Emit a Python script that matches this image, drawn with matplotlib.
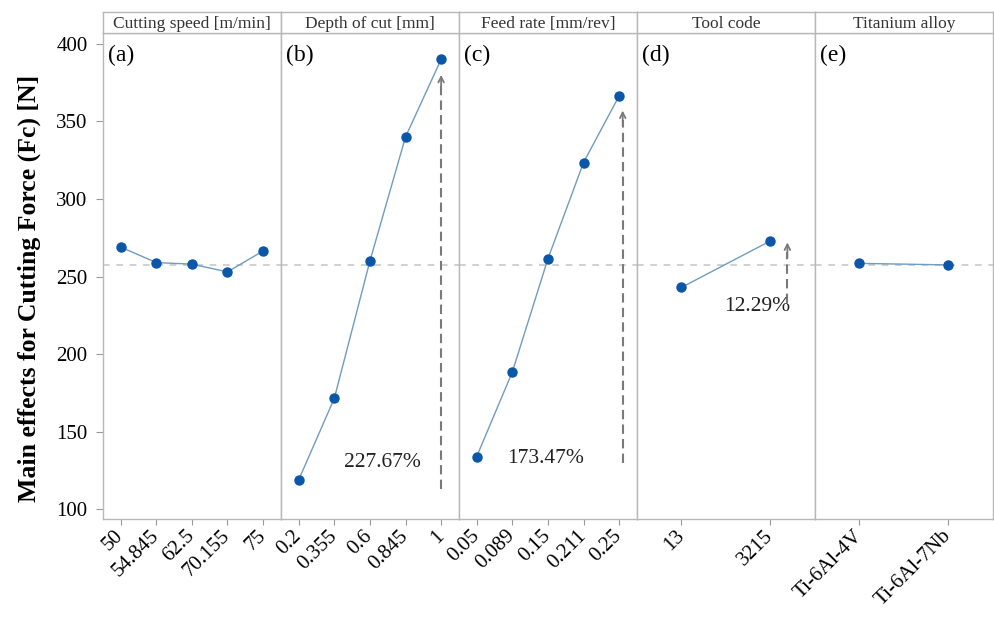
import matplotlib.pyplot as plt

plt.rcParams['font.family'] = ['Liberation Serif', 'DejaVu Serif']

# Factor names and level labels
factors = ['Cutting speed [m/min]', 'Depth of cut [mm]', 'Feed rate [mm/rev]',
           'Tool code', 'Titanium alloy']
panel_tags = ['(a)', '(b)', '(c)', '(d)', '(e)']

speed_levels = ['50', '54.845', '62.5', '70.155', '75']
speed_fc = [269, 259, 258, 253, 266.5]
depth_levels = ['0.2', '0.355', '0.6', '0.845', '1']
depth_fc = [119, 171.5, 260, 340, 390]
feed_levels = ['0.05', '0.089', '0.15', '0.211', '0.25']
feed_fc = [134, 188.5, 261.5, 323.5, 366.5]
tool_levels = ['13', '3215']
tool_fc = [243, 273]
alloy_levels = ['Ti-6Al-4V', 'Ti-6Al-7Nb']
alloy_fc = [258.5, 257.5]

overall_mean = 257.6

# Increase from the weakest to the strongest level of each factor
change_labels = [None, '227.67%', '173.47%', '12.29%', None]

levels = [speed_levels, depth_levels, feed_levels, tool_levels, alloy_levels]
means = [speed_fc, depth_fc, feed_fc, tool_fc, alloy_fc]

# arrow (x, bottom, top) and label (x, y) for the annotated factors
arrows = [None, (4.0, 113, 380), (4.1, 130, 357), (1.19, 233, 272), None]
label_pos = [None, (2.36, 130), (1.93, 133), (0.85, 231), None]

frame_col = '#b8b8b8'
line_col = '#6f9cc0'
dot_col = '#0a56a8'
arrow_col = '#7a7a7a'

fig, axes = plt.subplots(1, 5, figsize=(9.94, 6.22), dpi=100, sharey=True)
fig.subplots_adjust(left=0.1035, right=0.999, bottom=0.165, top=0.947, wspace=0)

for i, ax in enumerate(axes):
    x = list(range(len(levels[i])))
    ax.axhline(overall_mean, color='#c8c8c8', lw=1.2, ls=(0, (4, 4)), zorder=1)
    ax.plot(x, means[i], color=line_col, lw=1.0, zorder=2)
    ax.plot(x, means[i], 'o', color=dot_col, ms=6.5, zorder=3)

    ax.set_xlim(-0.5, len(x) - 0.5)
    ax.set_xticks(x)
    ax.set_xticklabels(levels[i], rotation=45, ha='right', va='center',
                       rotation_mode='anchor', fontsize=15)
    ax.tick_params(axis='x', length=4, color='#999999', pad=6)
    if i == 0:
        ax.tick_params(axis='y', length=5, color='#999999', labelsize=15, pad=6)
    else:
        ax.tick_params(axis='y', left=False, labelleft=False)
    for s in ax.spines.values():
        s.set_color(frame_col)
        s.set_linewidth(1.0)

    ax.text(0.03, 0.975, panel_tags[i], transform=ax.transAxes,
            fontsize=17, ha='left', va='top')

    if arrows[i] is not None:
        ax_x, y0, y1 = arrows[i]
        ax.plot([ax_x, ax_x], [y0, y1 - 6], color=arrow_col, lw=1.5,
                ls=(0, (4.5, 2.5)), zorder=2)
        ax.annotate('', xy=(ax_x, y1), xytext=(ax_x, y1 - 10),
                    arrowprops=dict(arrowstyle='->', color=arrow_col, lw=1.3,
                                    shrinkA=0, shrinkB=0))
        tx, ty = label_pos[i]
        ax.text(tx, ty, change_labels[i], fontsize=15.5, color='#222222',
                ha='center', va='center')

axes[0].set_ylim(93.5, 407)
axes[0].set_yticks([100, 150, 200, 250, 300, 350, 400])
axes[0].set_ylabel('Main effects for Cutting Force (Fc) [N]', fontsize=18.5,
                   fontweight='bold')
axes[0].yaxis.set_label_coords(-0.35, 0.475)

# Factor names in a strip above each panel
for i, ax in enumerate(axes):
    pos = ax.get_position()
    hx = fig.add_axes([pos.x0, pos.y1, pos.width, 0.033])
    hx.set_xticks([])
    hx.set_yticks([])
    for s in hx.spines.values():
        s.set_color(frame_col)
        s.set_linewidth(1.0)
    hx.text(0.5, 0.45, factors[i], ha='center', va='center', fontsize=12.5,
            color='#333333')

fig.savefig('out.png', dpi=100)
